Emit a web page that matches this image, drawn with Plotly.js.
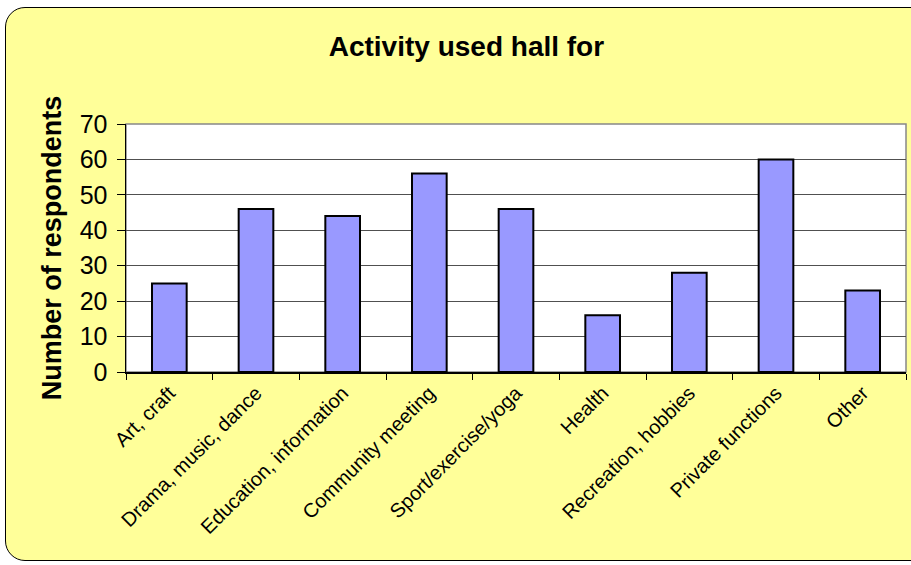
<!DOCTYPE html>
<html>
<head>
<meta charset="utf-8">
<script src="https://cdn.plot.ly/plotly-3.0.1.min.js"></script>
<style>
  html, body { margin: 0; padding: 0; width: 911px; height: 565px; overflow: hidden; background: #ffffff; }
  #frame { position: absolute; left: 5px; top: 7px; width: 930px; height: 552px; background: #FFFF99; border: 1.5px solid #000; border-radius: 20px; }
  #chart { position: absolute; left: 0; top: 0; width: 911px; height: 565px; }
</style>
</head>
<body>
<div id="frame"></div>
<div id="chart"></div>
<script>
const categories = ["Art, craft", "Drama, music, dance", "Education, information", "Community meeting",
  "Sport/exercise/yoga", "Health", "Recreation, hobbies", "Private functions", "Other"];
const respondents = [25, 46, 44, 56, 46, 16, 28, 60, 23];
const yTicks = [0, 10, 20, 30, 40, 50, 60, 70];

const trace = {
  type: "bar",
  x: categories,
  y: respondents,
  marker: { color: "#9999FF", line: { color: "#000000", width: 2 } },
  hoverinfo: "x+y"
};

const layout = {
  width: 911, height: 565,
  paper_bgcolor: "rgba(0,0,0,0)",
  plot_bgcolor: "#ffffff",
  margin: { l: 126, r: 5, t: 124, b: 193 },
  bargap: 0.6,
  showlegend: false,
  font: { family: "Liberation Sans, Arial, sans-serif", color: "#000" },
  title: { text: "<b>Activity used hall for</b>", font: { size: 28, color: "#000" },
           x: 0.512, xref: "container", y: 0.918, yref: "container", yanchor: "middle" },
  xaxis: {
    type: "category",
    tickangle: -45,
    tickfont: { size: 20 },
    tickson: "boundaries",
    ticks: "outside", ticklen: 6, tickcolor: "#000", tickwidth: 1,
    showline: true, linecolor: "#000", linewidth: 1.5,
    mirror: false,
    showgrid: false
  },
  yaxis: {
    range: [0, 70],
    tickvals: yTicks,
    tickfont: { size: 25 },
    ticklabelstandoff: 4,
    ticks: "outside", ticklen: 8, tickcolor: "#000", tickwidth: 1,
    showline: true, linecolor: "#000", linewidth: 1.5,
    showgrid: true, gridcolor: "#505050", gridwidth: 1,
    zeroline: false,
    title: { text: "<b>Number of respondents</b>", font: { size: 27 }, standoff: 10 }
  },
  shapes: [
    { type: "rect", xref: "paper", yref: "paper", x0: 0, x1: 1, y0: 0, y1: 1,
      line: { color: "#888888", width: 1.5 }, fillcolor: "rgba(0,0,0,0)", layer: "below" }
  ]
};

Plotly.newPlot("chart", [trace], layout, { displayModeBar: false, staticPlot: true });
</script>
</body>
</html>
